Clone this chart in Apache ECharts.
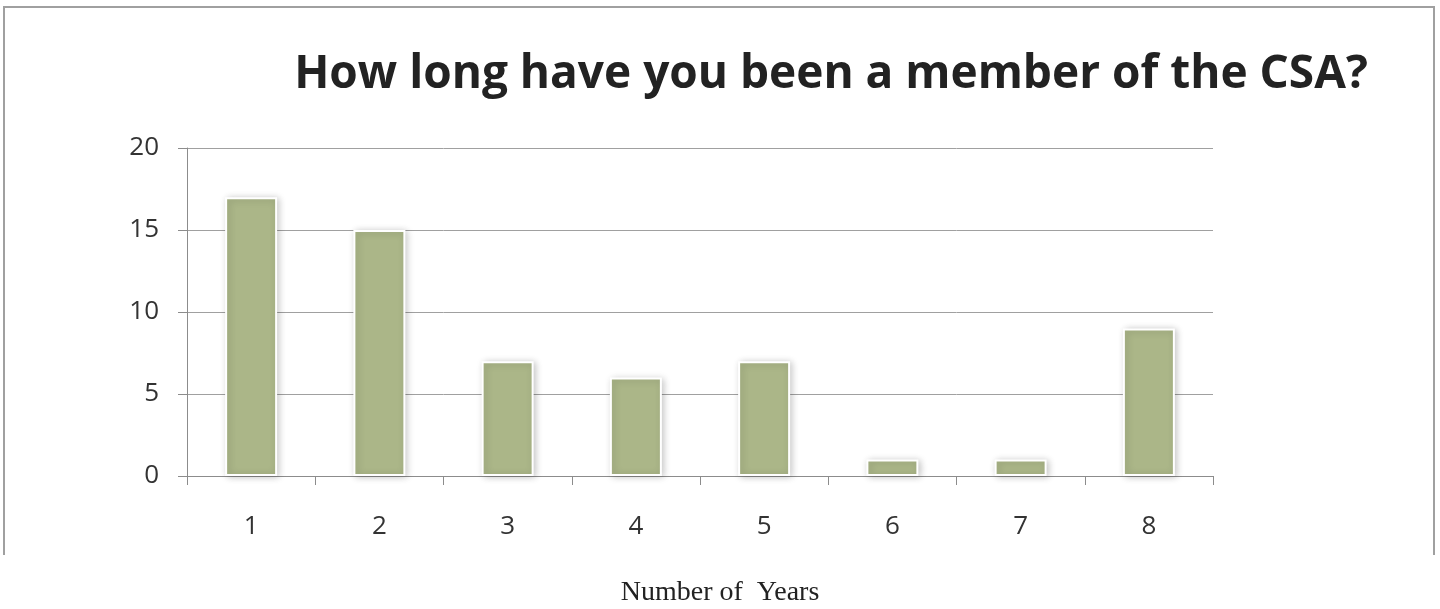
<!DOCTYPE html>
<html>
<head>
<meta charset="utf-8">
<script src="https://cdn.jsdelivr.net/npm/echarts@6/dist/echarts.min.js"></script>
<style>
  html, body { margin: 0; padding: 0; background: #fff; }
  #main { width: 1440px; height: 609px; }
</style>
</head>
<body>
<div id="main"></div>
<script>
const categories = ['1', '2', '3', '4', '5', '6', '7', '8']
const members = [17, 15, 7, 6, 7, 1, 1, 9]
const yTicks = [0, 5, 10, 15, 20]

const chart = echarts.init(document.getElementById('main'))

// 外框和底部说明文字
const option = {
  animation: false,
  backgroundColor: '#fff',
  title: {
    text: 'How long have you been a member of the CSA?',
    left: 826,
    top: 47,
    textAlign: 'center',
    textStyle: {
      fontFamily: 'Open Sans',
      fontWeight: 'bold',
      fontSize: 46,
      color: '#222'
    }
  },
  graphic: [
    {
      type: 'polyline',
      shape: { points: [[4, 555], [4, 7], [1434, 7], [1434, 555]] },
      style: { stroke: '#a0a0a0', lineWidth: 2, fill: null }
    },
    {
      type: 'text',
      left: 'center',
      top: 579,
      style: {
        text: 'Number of  Years',
        fontFamily: 'Liberation Serif',
        fontSize: 28,
        fill: '#222'
      }
    }
  ],
  grid: {
    left: 187,
    right: 227,
    top: 148,
    bottom: 133
  },
  xAxis: {
    type: 'category',
    data: categories,
    axisLine: { lineStyle: { color: '#8c8c8c', width: 1 } },
    axisTick: { show: true, length: 9, lineStyle: { color: '#8c8c8c' } },
    axisLabel: {
      color: '#333',
      fontFamily: 'Open Sans',
      fontSize: 26,
      margin: 38
    }
  },
  yAxis: {
    type: 'value',
    min: yTicks[0],
    max: yTicks[yTicks.length - 1],
    interval: 5,
    axisLine: { show: true, lineStyle: { color: '#8c8c8c', width: 1 } },
    axisTick: { show: true, length: 9, lineStyle: { color: '#8c8c8c' } },
    axisLabel: {
      color: '#333',
      fontFamily: 'Open Sans',
      fontSize: 26,
      margin: 28
    },
    splitLine: { lineStyle: { color: '#a0a0a0', width: 1 } }
  },
  series: [{
    type: 'bar',
    data: members,
    barWidth: 52,
    itemStyle: {
      color: '#abb688',
      borderColor: '#ffffff',
      borderWidth: 2,
      shadowColor: 'rgba(0,0,0,0.22)',
      shadowBlur: 7,
      shadowOffsetX: 2,
      shadowOffsetY: 1
    }
  }]
}

chart.setOption(option)
</script>
</body>
</html>
